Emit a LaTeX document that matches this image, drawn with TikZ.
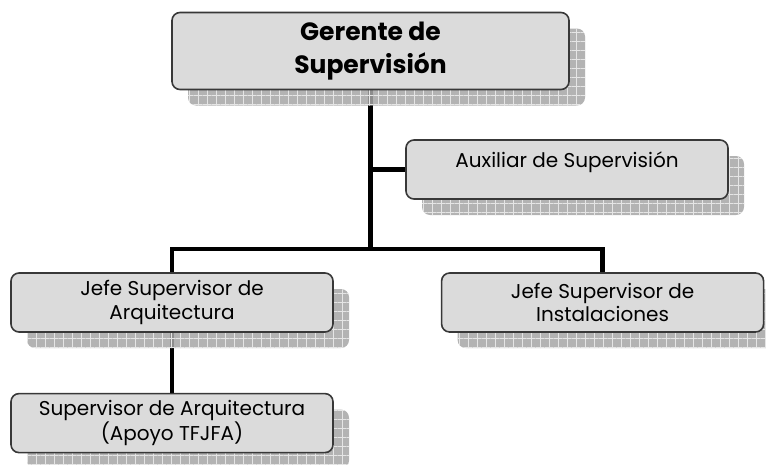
\documentclass[tikz,border=0pt]{standalone}
\usepackage{fontspec}
\setmainfont{Poppins}
\usetikzlibrary{positioning,shadows,patterns.meta,backgrounds}
\tikzset{
    puesto/.style={
        rectangle,
        draw=black!78,
        line width=1.6pt,
        rounded corners=8pt,
        fill=black!14,
        align=center,
        inner sep=0pt,
        minimum width=322pt,
        minimum height=59pt,
        font=\fontsize{20}{23.5}\selectfont,
        general shadow={shadow xshift=16pt, shadow yshift=-16pt, fill=black!35, opacity=.85},
        general shadow={shadow xshift=16pt, shadow yshift=-16pt,
            pattern={Hatch[distance=9pt, line width=.6pt]}, pattern color=black!10}
    },
    linea/.style={line width=4.5pt, black}
}

\begin{document}
\begin{tikzpicture}[x=1pt, y=-1pt, node distance=60pt and 107pt]
    \useasboundingbox (0,0) rectangle (766,464);

    \node (gerente) [puesto, minimum width=397pt, minimum height=77pt,
        font=\fontsize{25}{33}\selectfont\bfseries] at (370.5,51) {Gerente de\\Supervisión};
    \node (auxiliar) [puesto] at (567,169.5) {Auxiliar de Supervisión\\[-4pt]\mbox{}};
    \node (jefearq) [puesto] at (172,302.5) {Jefe Supervisor de\\Arquitectura};
    \node (jefeinst) [puesto, right=of jefearq] {Jefe Supervisor de\\Instalaciones};
    \node (supervisor) [puesto, below=of jefearq] {Supervisor de Arquitectura\\(Apoyo TFJFA)};
    \coordinate (bus) at (370.5,249);

    % connectors behind the boxes
    \begin{scope}[on background layer]
        \draw [linea] (gerente) |- (auxiliar);
        \draw [linea] (gerente) -- (bus);
        \draw [linea] (jefearq) |- (bus) -| (jefeinst);
        \draw [linea] (jefearq) -- (supervisor);
    \end{scope}
\end{tikzpicture}
\end{document}
